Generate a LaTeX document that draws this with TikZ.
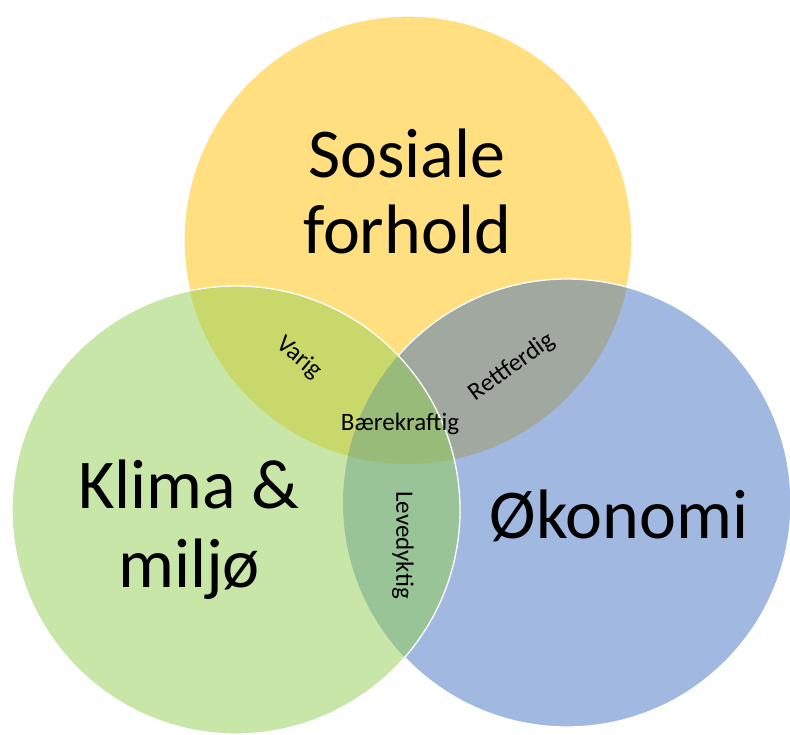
\documentclass[tikz,border=0pt]{standalone}
\usepackage{fontspec}
\setmainfont{Carlito}
\definecolor{ycol}{RGB}{255,223,128}
\definecolor{bcol}{RGB}{161,184,225}
\definecolor{gcol}{RGB}{200,230,167}
\definecolor{ybcol}{RGB}{161,168,160}
\definecolor{ygcol}{RGB}{201,216,106}
\definecolor{gbcol}{RGB}{153,196,152}
\definecolor{ygbcol}{RGB}{152,187,122}
\begin{document}
\begin{tikzpicture}[x=1pt,y=-1pt,
  outl/.style={draw=white,line width=1.3pt},
  big/.style={font=\fontsize{70}{77}\selectfont,text=black,inner sep=0pt,anchor=base},
  small/.style={font=\fontsize{25}{27}\selectfont,text=black,inner sep=0pt}]
\useasboundingbox (0,0) rectangle (790,734);
\coordinate (cy) at (408,240);
\coordinate (cb) at (567,503);
\coordinate (cg) at (236,510);
\def\R{224pt}
% yellow circle
\fill[ycol] (cy) circle[radius=\R];
\draw[outl] (cy) circle[radius=\R];
% blue circle
\fill[bcol] (cb) circle[radius=\R];
\begin{scope}
  \clip (cy) circle[radius=\R];
  \fill[ybcol] (cb) circle[radius=\R];
\end{scope}
\draw[outl] (cb) circle[radius=\R];
% green circle
\fill[gcol] (cg) circle[radius=\R];
\begin{scope}
  \clip (cg) circle[radius=\R];
  \fill[ygcol] (cy) circle[radius=\R];
  \fill[gbcol] (cb) circle[radius=\R];
  \clip (cy) circle[radius=\R];
  \fill[ygbcol] (cb) circle[radius=\R];
\end{scope}
\draw[outl] (cg) circle[radius=\R];
% labels
\node[big] (sos1) at (407,177) {Sosiale};
\node[big] (sos2) at (407,253) {forhold};
\node[big] (kli1) at (189,508) {Klima \&};
\node[big] (kli2) at (189,587) {miljø};
\node[big] (oko) at (619,538) {Økonomi};
\node[small,anchor=base] (baer) at (400,430) {Bærekraftig};
\node[small,rotate=-40] (var) at (299,358) {Varig};
\node[small,rotate=36] (ret) at (512,367) {Rettferdig};
\node[small,rotate=-90] (lev) at (403,545) {Levedyktig};
\end{tikzpicture}
\end{document}
